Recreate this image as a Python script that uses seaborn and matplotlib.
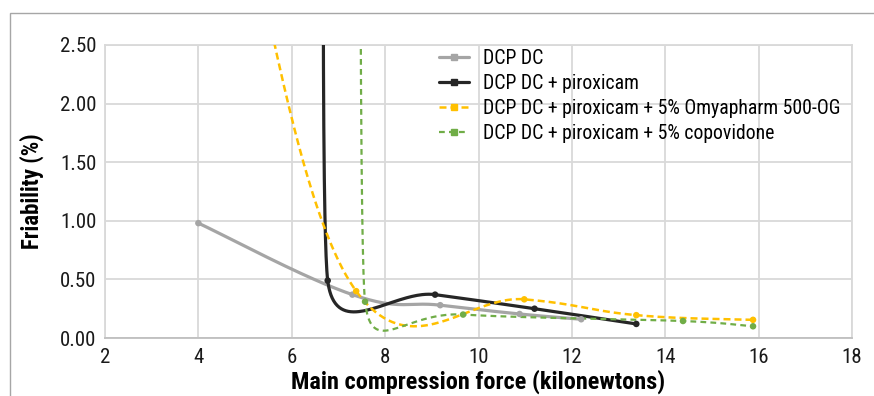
import numpy as np
import pandas as pd
import matplotlib
matplotlib.use("Agg")
import matplotlib.pyplot as plt
from matplotlib import font_manager
from matplotlib.lines import Line2D
from matplotlib.patches import Rectangle
import seaborn as sns

# ---------------- data ----------------
series_names = ["DCP DC",
                "DCP DC + piroxicam",
                "DCP DC + piroxicam + 5% Omyapharm 500-OG",
                "DCP DC + piroxicam + 5% copovidone"]

dcp_x = [4.0, 7.3, 9.18, 10.88, 12.2]
dcp_y = [0.98, 0.37, 0.28, 0.205, 0.16]

pirox_x = [6.70, 6.77, 9.07, 11.2, 13.38]
pirox_y = [8.0, 0.49, 0.37, 0.25, 0.12]

omya_x = [5.0, 7.38, 10.98, 13.38, 15.88]
omya_y = [3.6, 0.40, 0.33, 0.195, 0.155]

copo_x = [7.46, 7.57, 9.67, 14.38, 15.88]
copo_y = [8.0, 0.31, 0.20, 0.145, 0.10]

x_ticks = [2, 4, 6, 8, 10, 12, 14, 16, 18]
y_ticks = [0.0, 0.5, 1.0, 1.5, 2.0, 2.5]
y_ticklabels = ["0.00", "0.50", "1.00", "1.50", "2.00", "2.50"]

colors = ["#A5A5A5", "#262626", "#FFC000", "#70AD47"]

# ---------------- style ----------------
sns.set_theme(style="white")
names = {f.name for f in font_manager.fontManager.ttflist}
fam = None
for cand in ["Liberation Sans Narrow", "Roboto Condensed", "DejaVu Sans"]:
    if cand in names:
        fam = cand
        break
plt.rcParams["font.family"] = [fam, "DejaVu Sans"]
if fam == "DejaVu Sans":
    plt.rcParams["font.stretch"] = "condensed"

W, H = 874, 396
fig = plt.figure(figsize=(W / 100, H / 100), dpi=100)
L, R, T, B = 105, 852, 45, 338
ax = fig.add_axes([L / W, 1 - B / H, (R - L) / W, (B - T) / H])
ax.set_xlim(2, 18)
ax.set_ylim(0, 2.5)


def excel_smooth(xs, ys, n=80, f=0.2, lim_frac=0.6):
    pts = ax.transData.transform(np.column_stack([xs, ys]))
    N = len(pts)
    tans = []
    for i in range(N):
        prev = pts[max(i - 1, 0)]
        nxt = pts[min(i + 1, N - 1)]
        t = (nxt - prev) * f
        segs = []
        if i > 0:
            segs.append(np.linalg.norm(pts[i] - pts[i - 1]))
        if i < N - 1:
            segs.append(np.linalg.norm(pts[i + 1] - pts[i]))
        lim = lim_frac * min(segs)
        nt = np.linalg.norm(t)
        if nt > lim and nt > 0:
            t = t * lim / nt
        tans.append(t)
    out = []
    tt = np.linspace(0, 1, n)[:, None]
    for i in range(N - 1):
        P0, P3 = pts[i], pts[i + 1]
        C1, C2 = P0 + tans[i], P3 - tans[i + 1]
        seg = ((1 - tt) ** 3) * P0 + 3 * tt * (1 - tt) ** 2 * C1 + 3 * tt ** 2 * (1 - tt) * C2 + tt ** 3 * P3
        out.append(seg if i == 0 else seg[1:])
    out = np.vstack(out)
    return ax.transData.inverted().transform(out)


series = [(dcp_x, dcp_y), (pirox_x, pirox_y), (omya_x, omya_y), (copo_x, copo_y)]
lws = [2.3, 2.3, 1.8, 1.6]
dash = [None, None, (0, (2.8, 1.6)), (0, (2.6, 1.9))]

for (xs, ys), c, lw, ds, nm in zip(series, colors, lws, dash, series_names):
    sm = excel_smooth(xs, ys)
    df = pd.DataFrame({"x": sm[:, 0], "y": sm[:, 1]})
    sns.lineplot(data=df, x="x", y="y", sort=False, estimator=None, ax=ax,
                 color=c, lw=lw, linestyle=ds if ds else "-", zorder=3)
    dm = pd.DataFrame({"x": xs, "y": ys})
    sns.scatterplot(data=dm, x="x", y="y", ax=ax, color=c, s=22,
                    edgecolor="none", zorder=4)

ax.set_xlim(2, 18)
ax.set_ylim(0, 2.5)
ax.set_xticks(x_ticks)
ax.set_xticklabels([str(v) for v in x_ticks])
ax.set_yticks(y_ticks)
ax.set_yticklabels(y_ticklabels)
ax.grid(True, color="#D9D9D9", lw=1.3)
ax.set_axisbelow(True)
for s in ["top", "right", "left"]:
    ax.spines[s].set_color("#D9D9D9")
    ax.spines[s].set_linewidth(1.3)
ax.spines["bottom"].set_color("#BFBFBF")
ax.spines["bottom"].set_linewidth(1.3)
ax.tick_params(axis="both", length=0, labelsize=15, colors="#1a1a1a")
ax.tick_params(axis="x", pad=7)
ax.tick_params(axis="y", pad=6)
ax.set_xlabel("Main compression force (kilonewtons)", fontsize=17.5,
              fontweight="bold", color="#000000", labelpad=2)
ax.set_ylabel("Friability (%)", fontsize=16.5, fontweight="bold",
              color="#000000", labelpad=12)

handles = []
for c, lw, ds in zip(colors, lws, dash):
    handles.append(Line2D([0], [0], color=c, lw=lw, linestyle=ds if ds else "-",
                          marker="s", markersize=5, markerfacecolor=c,
                          markeredgecolor=c))
leg = ax.legend(handles, series_names, loc="upper left",
                bbox_to_anchor=(439 / W, 1 - 49 / H),
                bbox_transform=fig.transFigure, frameon=False, fontsize=14.2,
                handlelength=1.5, handletextpad=0.75, labelspacing=0.3,
                borderpad=0, borderaxespad=0)
for t in leg.get_texts():
    t.set_color("#000000")

fig.add_artist(Rectangle((10 / W, -0.1), 1.2, 1.1 - 12.5 / H,
                         transform=fig.transFigure, fill=False,
                         edgecolor="#A6A6A6", lw=1.0))

fig.savefig("out.png", dpi=100)
